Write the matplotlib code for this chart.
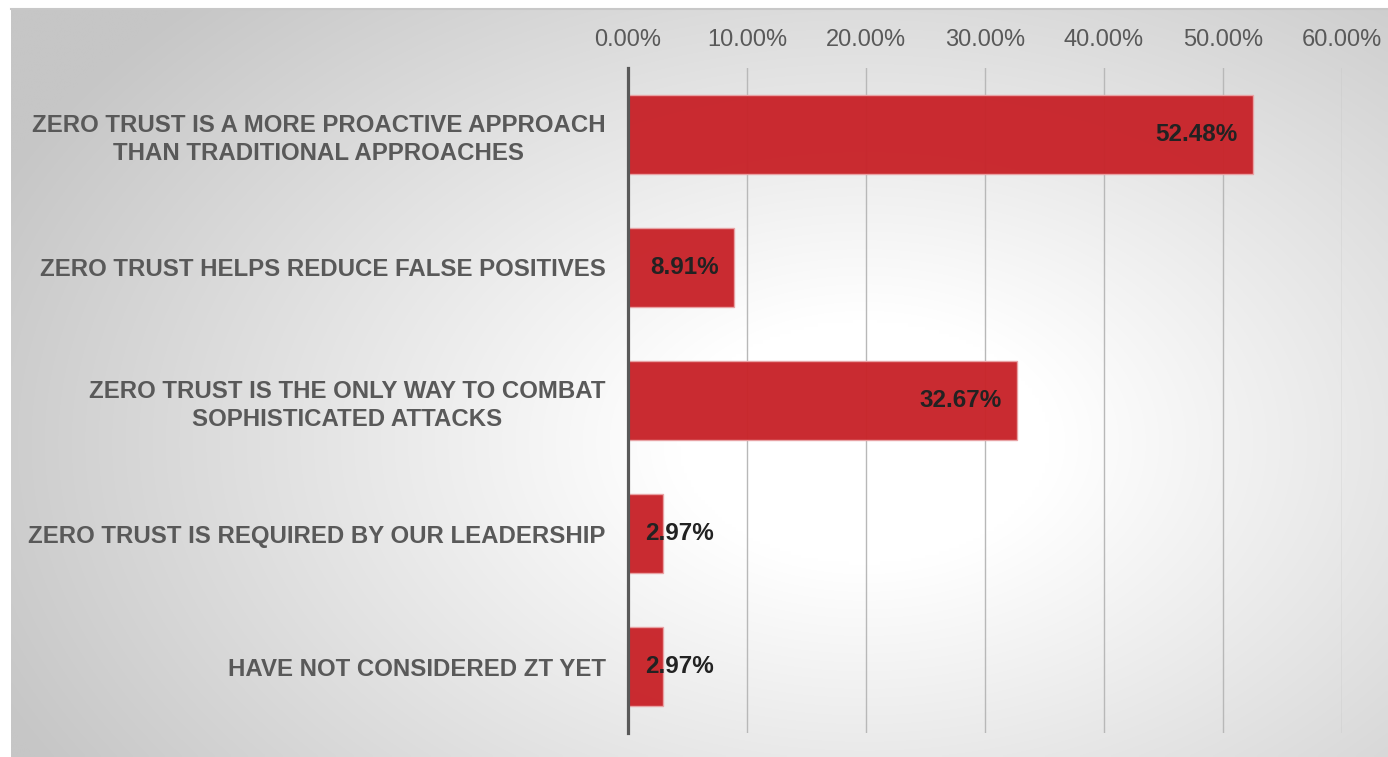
import numpy as np
import matplotlib
matplotlib.use("Agg")
import matplotlib.pyplot as plt

categories = [
    "ZERO TRUST IS A MORE PROACTIVE APPROACH\nTHAN TRADITIONAL APPROACHES",
    "ZERO TRUST HELPS REDUCE FALSE POSITIVES",
    "ZERO TRUST IS THE ONLY WAY TO COMBAT\nSOPHISTICATED ATTACKS",
    "ZERO TRUST IS REQUIRED BY OUR LEADERSHIP",
    "HAVE NOT CONSIDERED ZT YET",
]
values = [0.5248, 0.0891, 0.3267, 0.0297, 0.0297]
xticks = [0.0, 0.1, 0.2, 0.3, 0.4, 0.5, 0.6]
xtick_labels = ["0.00%", "10.00%", "20.00%", "30.00%", "40.00%", "50.00%", "60.00%"]

plt.rcParams['font.family'] = ['Liberation Sans', 'DejaVu Sans']

W, H = 1388, 757
fig = plt.figure(figsize=(W / 100, H / 100), dpi=100)

# background radial gradient
bg = fig.add_axes([11 / W, 0, 1 - 11 / W, 1 - 9 / H], zorder=0)
nx, ny = 400, 220
xx, yy = np.meshgrid(np.linspace(0, 1, nx), np.linspace(0, 1, ny))
cx, cy = 0.62, 0.58
r = np.sqrt(((xx - cx) / 0.62) ** 2 + ((yy - cy) / 0.75) ** 2)
t = np.clip((r - 0.22) / 0.9, 0, 1)
g = (255 - (255 - 198) * t) / 255.0
img = np.dstack([g, g, g])
bg.imshow(img, aspect='auto', extent=[0, 1, 0, 1], origin='upper', interpolation='bilinear')
bg.set_axis_off()
fig.add_artist(plt.Line2D([11 / W, 1], [1 - 8.5 / H, 1 - 8.5 / H], color='#c8c8c8', lw=1.5, transform=fig.transFigure))

ax = fig.add_axes([628 / W, 1 - 733 / H, (1342 - 628) / W, (733 - 68) / H], zorder=1)
ax.patch.set_alpha(0)

y = np.arange(len(categories))
ax.barh(y, values, height=0.6, color='#C8242A', edgecolor='#E9A3A5', linewidth=1, alpha=0.97, zorder=3)

ax.set_xlim(0, 0.6)
ax.set_ylim(len(categories) - 0.5, -0.5)
ax.set_xticks(xticks)
ax.set_xticklabels(xtick_labels)
ax.xaxis.tick_top()
ax.tick_params(axis='x', length=0, pad=12, labelsize=17, labelcolor='#595959')
ax.set_yticks(y)
ax.set_yticklabels(categories)
ax.tick_params(axis='y', length=0, pad=16, labelsize=17.3, labelcolor='#595959')
for lab in ax.get_yticklabels():
    lab.set_fontweight('bold')
    lab.set_multialignment('center')
    lab.set_linespacing(1.28)
ax.grid(axis='x', color='#b8b8b8', lw=1.0, zorder=1)
ax.grid(axis='y', visible=False)
for s in ['top', 'right', 'bottom']:
    ax.spines[s].set_visible(False)
ax.spines['left'].set_color('#595959')
ax.spines['left'].set_linewidth(2.3)
ax.spines['left'].set_zorder(4)

for yi, v in zip(y, values):
    txt = f"{v * 100:.2f}%"
    if v > 0.06:
        ax.text(v - 0.0125, yi, txt, ha='right', va='center', fontsize=17.5, fontweight='bold', color='#222222', zorder=5)
    else:
        ax.text(0.0145, yi, txt, ha='left', va='center', fontsize=17.5, fontweight='bold', color='#222222', zorder=5)

fig.savefig("out.png", dpi=100)
